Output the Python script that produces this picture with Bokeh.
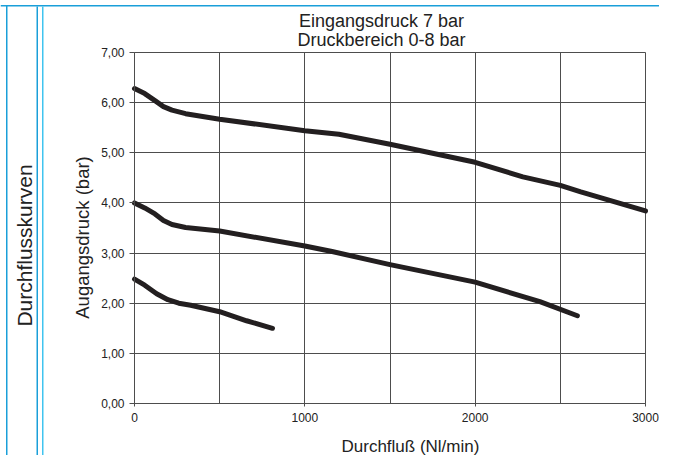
from bokeh.plotting import figure
from bokeh.models import Range1d, FixedTicker, LinearAxis, Grid
from bokeh.core.properties import value
from bokeh.embed import file_html
from bokeh.resources import INLINE

# ---- texts ----
title_lines = ["Eingangsdruck 7 bar", "Druckbereich 0-8 bar"]
x_label = "Durchfluß (Nl/min)"
y_label = "Augangsdruck (bar)"
side_label = "Durchflusskurven"

# ---- ticks ----
x_ticks = [0, 1000, 2000, 3000]
x_minor = [500, 1500, 2500]
y_ticks = [0, 1, 2, 3, 4, 5, 6, 7]
y_tick_labels = ["0,00", "1,00", "2,00", "3,00", "4,00", "5,00", "6,00", "7,00"]

# ---- curves ----
flow_high = [0, 60, 120, 170, 220, 300, 500, 1000, 1200, 1500, 2000, 2280, 2500, 2620, 3000]
press_high = [6.28, 6.18, 6.04, 5.92, 5.85, 5.78, 5.67, 5.44, 5.37, 5.17, 4.81, 4.52, 4.35, 4.22, 3.84]

flow_mid = [0, 60, 120, 170, 220, 300, 500, 1000, 1160, 1500, 2000, 2380, 2600]
press_mid = [4.00, 3.90, 3.78, 3.65, 3.57, 3.51, 3.44, 3.14, 3.03, 2.77, 2.42, 2.03, 1.75]

flow_low = [0, 60, 130, 196, 260, 330, 500, 658, 810]
press_low = [2.48, 2.36, 2.19, 2.07, 2.00, 1.96, 1.83, 1.65, 1.50]

# ---- style / layout constants (pixels) ----
FONT = "Liberation Sans"
GRID = "#4d4d4d"
INK = "#231f20"
TXT = "#222222"
BLUE1 = "#1a9fd9"
BLUE2 = "#40c4ef"

W, H = 659, 455
PX_LEFT, PX_RIGHT = 134, 645      # where x = 0 / 3000 fall
PX_TOP, PX_BOTTOM = 52, 403       # where y = 7 / 0 fall
TEXT_DY = -4                      # baseline correction for text glyphs
XMIN, XMAX = x_ticks[0], x_ticks[-1]
YMIN, YMAX = y_ticks[0], y_ticks[-1]

SX = (PX_RIGHT - PX_LEFT) / (XMAX - XMIN)
SY = (PX_BOTTOM - PX_TOP) / (YMAX - YMIN)
X0 = XMIN - PX_LEFT / SX
X1 = XMIN + (W - PX_LEFT) / SX
Y1 = YMAX + PX_TOP / SY
Y0 = YMIN - (H - PX_BOTTOM) / SY


def dx(px):
    return X0 + px / SX


def dy(py):
    return Y1 - py / SY


p = figure(width=W, height=H, output_backend="svg", toolbar_location=None,
           x_range=Range1d(X0, X1), y_range=Range1d(Y0, Y1),
           x_axis_type=None, y_axis_type=None,
           min_border=0, min_border_left=0, min_border_right=0,
           min_border_top=0, min_border_bottom=0)
try:
    p.title = None
except Exception:
    p.title.visible = False
p.outline_line_color = None
p.background_fill_color = "white"
p.border_fill_color = "white"

x_ticker = FixedTicker(ticks=x_ticks, minor_ticks=x_minor)
y_ticker = FixedTicker(ticks=y_ticks)

# ---- axes, fixed at the data origin ----
xaxis = LinearAxis(fixed_location=YMIN, ticker=x_ticker, bounds=(XMIN, XMAX))
yaxis = LinearAxis(fixed_location=XMIN, ticker=y_ticker, bounds=(YMIN, YMAX),
                   major_label_overrides={t: l for t, l in zip(y_ticks, y_tick_labels)})
for ax in (xaxis, yaxis):
    ax.axis_line_color = GRID
    ax.major_tick_line_color = GRID
    ax.major_tick_in = 0
    ax.minor_tick_in = 0
    ax.minor_tick_out = 0
    ax.major_label_text_font = FONT
    ax.major_label_text_font_size = "12px"
    ax.major_label_text_color = TXT
xaxis.major_tick_out = 3
xaxis.major_label_standoff = 6
yaxis.major_tick_out = 5
yaxis.major_label_standoff = 5
p.add_layout(xaxis, "below")
p.add_layout(yaxis, "left")

# ---- grid limited to the plot box ----
has_cross = "cross_bounds" in Grid.properties()
xgrid = Grid(dimension=0, ticker=x_ticker, bounds=(XMIN, XMAX),
             grid_line_color=GRID, grid_line_width=1,
             minor_grid_line_color=GRID, minor_grid_line_width=1)
ygrid = Grid(dimension=1, ticker=y_ticker, bounds=(YMIN, YMAX),
             grid_line_color=GRID, grid_line_width=1)
if has_cross:
    xgrid.cross_bounds = (YMIN, YMAX)
    ygrid.cross_bounds = (XMIN, XMAX)
    p.add_layout(xgrid)
    p.add_layout(ygrid)
else:
    xs = sorted(x_ticks + x_minor)
    p.segment(x0=xs, y0=[YMIN] * len(xs), x1=xs, y1=[YMAX] * len(xs),
              line_color=GRID, line_width=1)
    p.segment(x0=[XMIN] * len(y_ticks), y0=y_ticks, x1=[XMAX] * len(y_ticks), y1=y_ticks,
              line_color=GRID, line_width=1)

# ---- curves ----
for fx, py in ((flow_high, press_high), (flow_mid, press_mid), (flow_low, press_low)):
    p.line(fx, py, line_width=5, line_color=INK, line_cap="round", line_join="round")

# ---- chart titles and axis titles ----
p.text(x=[1450, 1450], y=[dy(24.5 + TEXT_DY), dy(43.5 + TEXT_DY)], text=title_lines,
       text_font=value(FONT), text_font_size=value("18px"),
       text_align="center", text_baseline="alphabetic", text_color=TXT)
p.text(x=[1620], y=[dy(450 + TEXT_DY)], text=[x_label],
       text_font=value(FONT), text_font_size=value("17px"),
       text_align="center", text_baseline="alphabetic", text_color=TXT)
p.text(x=[dx(82)], y=[dy(237)], text=[y_label], angle=90, angle_units="deg",
       text_font=value(FONT), text_font_size=value("18.5px"),
       text_align="center", text_baseline="middle", text_color=TXT)

# ---- page frame: blue rules and side caption ----
p.quad(left=[dx(0), dx(5.5), dx(36), dx(41.5)],
       right=[dx(W), dx(7), dx(37.5), dx(43)],
       top=[dy(4.5), dy(4.5), dy(6), dy(6)],
       bottom=[dy(6), dy(H), dy(H), dy(H)],
       fill_color=[BLUE1, BLUE1, BLUE1, BLUE2], line_color=None)
p.text(x=[dx(24)], y=[dy(245)], text=[side_label], angle=90, angle_units="deg",
       text_font=value(FONT), text_font_size=value("21px"),
       text_align="center", text_baseline="middle", text_color=TXT)

open("out.html", "w").write(file_html(p, INLINE))
